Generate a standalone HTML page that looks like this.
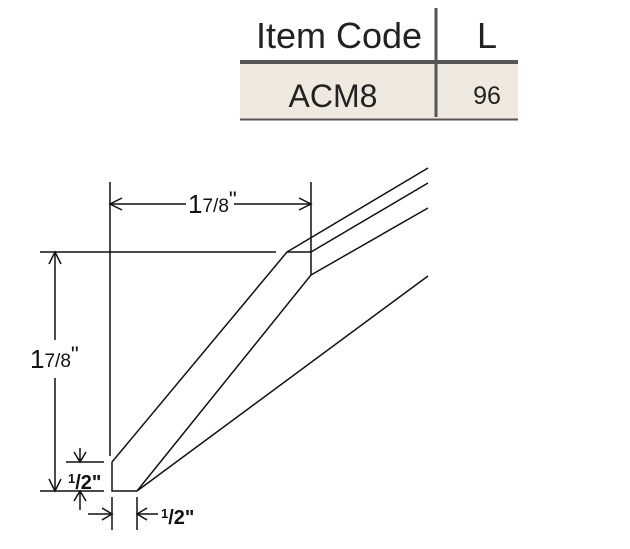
<!DOCTYPE html>
<html><head><style>
body{margin:0;width:630px;height:544px;background:#fff;overflow:hidden;font-family:"Liberation Sans",sans-serif}
</style></head><body>
<svg width="630" height="544" xmlns="http://www.w3.org/2000/svg">
<rect x="240" y="64" width="278" height="55" fill="#efe8df"/>
<line x1="240" y1="62" x2="518" y2="62" stroke="#555" stroke-width="4"/>
<line x1="240" y1="119.5" x2="518" y2="119.5" stroke="#555" stroke-width="2"/>
<line x1="436" y1="8" x2="436" y2="117" stroke="#555" stroke-width="3"/>
<text x="339" y="48" font-size="36" text-anchor="middle" fill="#222">Item Code</text>
<text x="487" y="48" font-size="36" text-anchor="middle" fill="#222">L</text>
<text x="333" y="107" font-size="32" text-anchor="middle" fill="#222">ACM8</text>
<text x="487" y="104" font-size="25" text-anchor="middle" fill="#222">96</text>
<g stroke="#111" stroke-width="1.5" fill="none">
<polyline points="112,462 112,491 137,491 311,275 311,252 287,252 112,462"/>
<line x1="137" y1="491" x2="428" y2="276"/>
<line x1="287" y1="252" x2="428" y2="168"/>
<line x1="311" y1="252" x2="428" y2="183"/>
<line x1="311" y1="275" x2="428" y2="208"/>
<line x1="110" y1="182" x2="110" y2="456"/>
<line x1="311" y1="182" x2="311" y2="252"/>
<line x1="40" y1="252" x2="276" y2="252"/>
<line x1="110" y1="204" x2="186" y2="204"/>
<line x1="234" y1="204" x2="311" y2="204"/>
<polyline points="122,198 110,204 122,210"/>
<polyline points="299,198 311,204 299,210"/>
<line x1="55" y1="252" x2="55" y2="340"/>
<line x1="55" y1="378" x2="55" y2="491"/>
<polyline points="49,264 55,252 61,264"/>
<polyline points="49,479 55,491 61,479"/>
<line x1="40" y1="491" x2="104" y2="491"/>
<line x1="66" y1="462" x2="104" y2="462"/>
<line x1="80" y1="448" x2="80" y2="462"/>
<polyline points="74,452 80,462 86,452"/>
<line x1="80" y1="491" x2="80" y2="510"/>
<polyline points="74,501 80,491 86,501"/>
<line x1="112" y1="497" x2="112" y2="530"/>
<line x1="137" y1="497" x2="137" y2="530"/>
<line x1="88" y1="514" x2="112" y2="514"/>
<polyline points="102,508 112,514 102,520"/>
<line x1="137" y1="514" x2="158" y2="514"/>
<polyline points="147,508 137,514 147,520"/>
</g>
<g font-family="Liberation Sans Narrow, Liberation Sans, sans-serif" fill="#111">
<text x="188" y="213" font-size="26">1<tspan font-size="19" dy="-1">7/8</tspan><tspan font-size="22" dy="-5">"</tspan></text>
<text x="30" y="368" font-size="26">1<tspan font-size="19" dy="-1">7/8</tspan><tspan font-size="22" dy="-5">"</tspan></text>
<text x="68" y="489" font-size="20" font-weight="bold"><tspan font-size="13" dy="-6">1</tspan><tspan dy="6">/2"</tspan></text>
<text x="161" y="524" font-size="20" font-weight="bold"><tspan font-size="13" dy="-6">1</tspan><tspan dy="6">/2"</tspan></text>
</g>
</svg>
</body></html>
